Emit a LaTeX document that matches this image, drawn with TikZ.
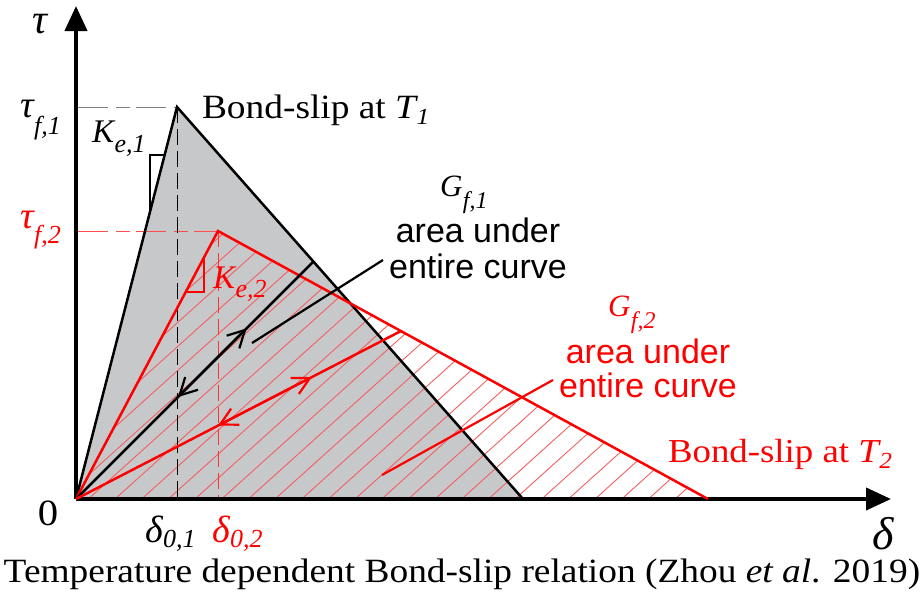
\documentclass[tikz,border=0pt]{standalone}
\usepackage{fontspec}
\setmainfont{Liberation Serif}
\newfontfamily\wserif[FakeStretch=1.1]{Liberation Serif}
\newfontfamily\arialf{Liberation Sans}
\usetikzlibrary{arrows.meta,calc}
\definecolor{fillg}{RGB}{199,200,202}
\definecolor{myred}{RGB}{255,0,0}
\definecolor{hatchred}{RGB}{242,95,95}
\newcommand\fs[1]{\fontsize{#1}{#1}\selectfont}
% main size, sub size, lowering, main, sub
\newcommand\symsub[5]{{\fs{#1}\itshape #4}\kern0.5pt\raisebox{-#3pt}{\fs{#2}\itshape #5}}
\tikzset{
  axis/.style={line width=4pt,-{Triangle[length=25pt,width=22pt]}},
  edge1/.style={line width=2.5pt,black},
  edge2/.style={line width=2.5pt,myred},
  barbk/.style={line width=2.2pt,black,-{Straight Barb[length=17pt,width=18pt]}},
  barrd/.style={line width=2.2pt,myred,-{Straight Barb[length=17pt,width=18pt]}},
  plainbk/.style={line width=2.2pt,black},
  plainrd/.style={line width=2.2pt,myred},
  dashbk/.style={line width=0.9pt,black,dash pattern=on 16pt off 6pt},
  dashgr/.style={line width=0.9pt,gray,dash pattern=on 30pt off 8pt on 14pt off 6pt},
  dashrd/.style={line width=0.9pt,myred!70,dash pattern=on 30pt off 8pt on 14pt off 6pt},
  dashrdv/.style={line width=0.9pt,myred!80,dash pattern=on 16pt off 6pt},
  kmark/.style={line width=1.6pt},
  lbl/.style={inner sep=0pt,outer sep=0pt},
  sans/.style={lbl,font=\arialf\fs{34}},
}
\begin{document}
\begin{tikzpicture}[x=1pt,y=-1pt]
\useasboundingbox (0,0) rectangle (924,598);
% key points
\coordinate (O) at (76,499);
\coordinate (P1) at (177,107);
\coordinate (E1) at (523,499);
\coordinate (P2) at (218,231);
\coordinate (E2) at (708,499);
\coordinate (Ytop) at (76,6);
\coordinate (Xend) at (891,499);
\coordinate (Yf1) at (78,107);
\coordinate (Yf2) at (78,231);
\coordinate (D1) at (177,499);
\coordinate (D2) at (218,499);
\coordinate (A1) at (313,262);
\coordinate (A2) at (401,331);
% grey area
\fill[fillg] (O) -- (P1) -- (E1) -- cycle;
% hatch (single direction, rising to the right)
\begin{scope}
\clip (O) -- (P2) -- (E2) -- cycle;
\foreach \k in {-8,...,27} {
  \draw[hatchred,line width=0.9pt] ({8.3+26.67*\k},499) -- ++(-42:700);
}
\end{scope}
% dashed guides
\draw[dashgr] (Yf1) -- (P1);
\draw[dashrd] (Yf2) -- (P2);
\draw[dashbk] (P1) -- (D1);
\draw[dashrdv] (P2) -- (D2);
% axes
\draw[axis] (O) -- (Xend);
\draw[axis] (O) -- (Ytop);
% curves
\draw[edge1] (O) -- (P1) -- (E1);
\draw[edge2] (O) -- (P2) -- (E2);
% stiffness marks
\coordinate (K1a) at (164.6,155);
\coordinate (K1b) at (150,155);
\coordinate (K1c) at (150,211);
\draw[kmark,black] (K1a) -- (K1b) -- (K1c);
\coordinate (K2a) at (203.7,258);
\coordinate (K2b) at (203.7,292);
\coordinate (K2c) at (185.7,292);
\draw[kmark,myred] (K2a) -- (K2b) -- (K2c);
% black double arrow
\draw[plainbk] (O) -- (A1);
\draw[barbk] (O) -- ($(O)!0.72!(A1)$);
\draw[barbk] (A1) -- ($(O)!0.43!(A1)$);
% red double arrow
\draw[plainrd] (O) -- (A2);
\draw[barrd] (O) -- ($(O)!0.726!(A2)$);
\draw[barrd] (A2) -- ($(O)!0.437!(A2)$);
% pointers
\coordinate (g1p) at (383,260);
\coordinate (g1q) at (252,343);
\draw[plainbk] (g1p) -- (g1q);
\coordinate (g2p) at (553,380);
\coordinate (g2q) at (382,475);
\draw[plainrd] (g2p) -- (g2q);
% labels
\node[lbl] (tau) at (40,24) {\fs{42}\itshape τ};
\node[lbl] (delta) at (883,534) {\fs{46}\itshape δ};
\node[lbl,anchor=base] (zero) at (48,525) {\wserif\fs{37}0};
\node[lbl,anchor=base west] (tf1) at (20,117) {\symsub{38}{26}{17}{τ}{f,1}};
\node[lbl,anchor=base west,text=myred] (tf2) at (20,228) {\symsub{38}{26}{15}{τ}{f,2}};
\node[lbl,anchor=base west] (ke1) at (92,142) {\symsub{33}{26}{10}{K}{e,1}};
\node[lbl,anchor=base west,text=myred] (ke2) at (213,288) {\symsub{33}{26}{9}{K}{e,2}};
\node[lbl,anchor=base west] (d01) at (145,542) {\symsub{38}{26}{5}{δ}{0,1}};
\node[lbl,anchor=base west,text=myred] (d02) at (212,542) {\symsub{38}{26}{5}{δ}{0,2}};
\node[lbl,anchor=base west] (gf1) at (440,196) {\symsub{31}{24}{12}{G}{f,1}};
\node[sans,anchor=base] (au1) at (478,242) {area under};
\node[sans,anchor=base] (ec1) at (478,278) {entire curve};
\node[lbl,anchor=base west,text=myred] (gf2) at (608,316) {\symsub{31}{24}{12}{G}{f,2}};
\node[sans,anchor=base,text=myred] (au2) at (648,363) {area under};
\node[sans,anchor=base,text=myred] (ec2) at (648,397) {entire curve};
\node[lbl,anchor=base west] (bs1) at (202,118) {\wserif\fs{34}Bond-slip at \symsub{34}{23}{6}{T}{1}};
\node[lbl,anchor=base west,text=myred] (bs2) at (668,462) {\wserif\fs{33.5}Bond-slip at \symsub{33.5}{23}{6}{T}{2}};
\node[lbl,anchor=base] (cap) at (462,582) {\wserif\fs{34}Temperature dependent Bond-slip relation (Zhou \textit{et al}. 2019)};
\end{tikzpicture}
\end{document}
